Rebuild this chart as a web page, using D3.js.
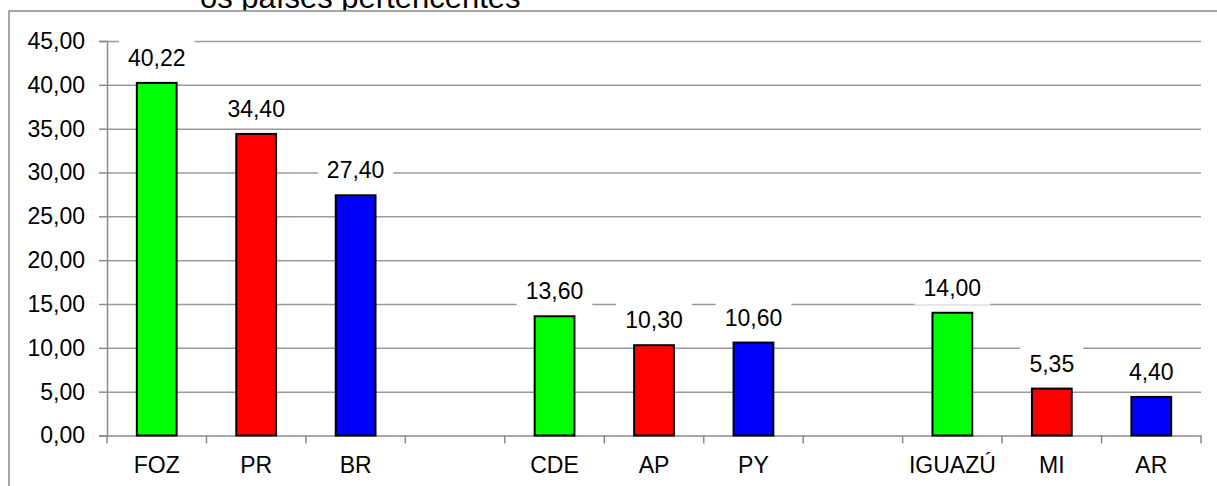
<!DOCTYPE html>
<html>
<head>
<meta charset="utf-8">
<script src="https://cdn.jsdelivr.net/npm/d3@7"></script>
<style>
  body { margin: 0; background: #fff; }
  svg { display: block; font-family: "Liberation Sans", Arial, sans-serif; }
  .grid line { stroke: #9a9a9a; stroke-width: 1.5; }
  .grid .domain { display: none; }
  .axis .domain, .axis line { stroke: #8a8a8a; stroke-width: 1.5; }
  .axis text { font-size: 23px; fill: #000; }
</style>
</head>
<body>
<svg width="1217" height="486"></svg>
<script>
"use strict";

var categories = ["FOZ", "PR", "BR", "", "CDE", "AP", "PY", "", "IGUAZÚ", "MI", "AR"];
var values = [40.22, 34.40, 27.40, null, 13.60, 10.30, 10.60, null, 14.00, 5.35, 4.40];
var barColors = ["#00ff00", "#ff0000", "#0000ff", null, "#00ff00", "#ff0000", "#0000ff", null, "#00ff00", "#ff0000", "#0000ff"];
var yTicks = [0, 5, 10, 15, 20, 25, 30, 35, 40, 45];
var title = "os países pertencentes";

var fmt = function (v) { return d3.format(".2f")(v).replace(".", ","); };

var svg = d3.select("svg");
var margin = { top: 41, left: 107, right: 16, bottom: 50.5 };
var width = +svg.attr("width") - margin.left - margin.right;
var height = +svg.attr("height") - margin.top - margin.bottom;

// title sits above the frame and gets cut by it
svg.append("text").attr("x", 200).attr("y", 8).attr("font-size", 31).text(title);

svg.append("rect").attr("x", 9).attr("y", 11).attr("width", 1240).attr("height", 500)
    .attr("fill", "#fff").attr("stroke", "#8a8a8a").attr("stroke-width", 1.5);

var g = svg.append("g").attr("transform", "translate(" + margin.left + "," + margin.top + ")");

var idx = categories.map(function (d, i) { return i; });
var x = d3.scaleBand().domain(idx).range([0, width]).paddingInner(0.6).paddingOuter(0.3);
var y = d3.scaleLinear().domain([0, 45]).range([height, 0]);

g.append("g").attr("class", "grid")
    .call(d3.axisLeft(y).tickValues(yTicks.slice(1)).tickSize(-width).tickFormat(""));

var yAxis = g.append("g").attr("class", "axis")
    .call(d3.axisLeft(y).tickValues(yTicks).tickSize(8).tickPadding(14).tickFormat(fmt));

var xAxis = g.append("g").attr("class", "axis").attr("transform", "translate(0," + height + ")")
    .call(d3.axisBottom(x).tickSize(0).tickSizeOuter(0).tickFormat(function (i) { return categories[i]; }));
xAxis.selectAll("text").attr("y", 37).attr("dy", 0);

// ticks at band boundaries
var step = x.step();
xAxis.selectAll(".bound").data(d3.range(categories.length + 1)).enter().append("line")
    .attr("class", "bound")
    .attr("x1", function (i) { return i * step; }).attr("x2", function (i) { return i * step; })
    .attr("y1", 0).attr("y2", 8);

var data = idx.filter(function (i) { return values[i] !== null; });

g.selectAll(".bar").data(data).enter().append("rect").attr("class", "bar")
    .attr("x", function (i) { return x(i); })
    .attr("y", function (i) { return y(values[i]); })
    .attr("width", x.bandwidth())
    .attr("height", function (i) { return height - y(values[i]); })
    .attr("fill", function (i) { return barColors[i]; })
    .attr("stroke", "#000").attr("stroke-width", 2);

var lab = g.selectAll(".lab").data(data).enter().append("g").attr("class", "lab")
    .attr("transform", function (i) { return "translate(" + (x(i) + x.bandwidth() / 2) + "," + y(values[i]) + ")"; });

var boxes = lab.append("rect").attr("fill", "#fff");
var texts = lab.append("text").attr("text-anchor", "middle").attr("y", -17).attr("font-size", 23)
    .text(function (i) { return fmt(values[i]); });

boxes.each(function (i, k) {
    var w = texts.nodes()[k].getComputedTextLength() + 18;
    d3.select(this).attr("x", -w / 2).attr("width", w).attr("y", -44).attr("height", 36);
});
</script>
</body>
</html>
